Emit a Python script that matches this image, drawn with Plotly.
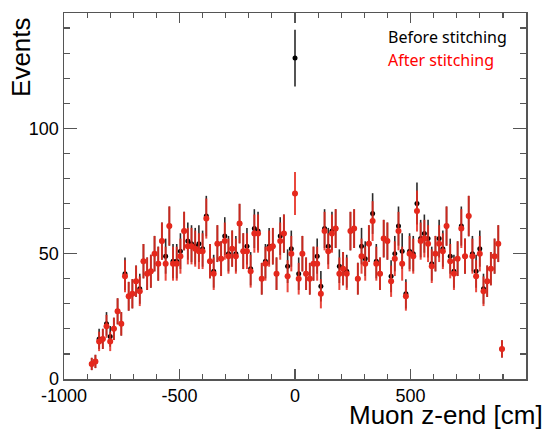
import numpy as np
import plotly.graph_objects as go

# Histogram binning: 16 cm bins, centres from -880 to 896 cm
z_centres = list(range(-880, 897, 16))

before_stitching = [
    6, 7, 16, 16, 22, 17, 20, 27, 22, 42,
    33, 34, 39, 36, 47, 42, 43, 50, 46, 55,
    49, 61, 47, 47, 51, 59, 55, 54, 53, 54,
    52, 65, 47, 43, 54, 48, 57, 50, 52, 50,
    62, 51, 53, 44, 60, 59, 40, 47, 53, 53,
    42, 57, 58, 45, 52, 128, 42, 50, 42, 40,
    46, 49, 37, 60, 53, 59, 60, 45, 44, 43,
    59, 60, 40, 53, 48, 54, 66, 47, 42, 56,
    55, 41, 50, 61, 51, 34, 51, 50, 70, 56,
    58, 56, 46, 50, 56, 52, 61, 49, 43, 48,
    61, 49, 65, 50, 43, 52, 36, 39, 44, 49,
    54, 12,
]
after_stitching = [
    6, 7, 15, 16, 21, 15, 20, 27, 22, 41,
    33, 34, 39, 35, 47, 42, 43, 50, 46, 55,
    46, 61, 46, 46, 49, 59, 53, 53, 52, 51,
    51, 64, 47, 42, 54, 48, 55, 49, 52, 49,
    62, 51, 51, 43, 58, 58, 40, 46, 52, 53,
    42, 55, 58, 41, 50, 74, 40, 50, 42, 40,
    46, 46, 34, 59, 51, 58, 60, 42, 44, 42,
    59, 60, 40, 49, 46, 54, 63, 46, 42, 56,
    55, 39, 48, 59, 46, 33, 50, 49, 67, 55,
    56, 54, 45, 50, 54, 51, 61, 47, 42, 48,
    60, 49, 65, 49, 41, 50, 35, 39, 44, 49,
    54, 12,
]

x_tick_vals = [-1000, -500, 0, 500]
x_tick_text = ["-1000", "-500", "0", "500"]
y_tick_vals = [0, 50, 100]
y_tick_text = ["0", "50", "100"]

err_before = np.sqrt(np.array(before_stitching, dtype=float))
err_after = np.sqrt(np.array(after_stitching, dtype=float))

RED = "#e5281c"

fig = go.Figure()
fig.add_trace(go.Scatter(
    x=z_centres, y=before_stitching, mode="markers",
    marker=dict(color="black", size=5),
    error_y=dict(type="data", array=err_before, visible=True,
                 color="#2a2a2a", thickness=1.6, width=0),
    showlegend=False, hoverinfo="skip",
))
fig.add_trace(go.Scatter(
    x=z_centres, y=after_stitching, mode="markers",
    marker=dict(color=RED, size=6),
    error_y=dict(type="data", array=err_after, visible=True,
                 color="rgba(229,40,28,0.85)", thickness=2, width=0),
    showlegend=False, hoverinfo="skip",
))

axis_common = dict(
    showline=True, linecolor="#555555", linewidth=1.5, mirror="allticks",
    ticks="inside", tickcolor="#555555", showgrid=False, zeroline=False,
    automargin=False,
    tickfont=dict(family="Liberation Sans, Arial", size=18, color="black"),
)

fig.update_xaxes(
    range=[-1000, 1000], tickmode="array", tickvals=x_tick_vals,
    ticktext=x_tick_text, ticklen=10, tickwidth=1.2,
    minor=dict(dtick=100, ticklen=5, ticks="inside", tickcolor="#555555", tickwidth=1.2),
    **axis_common,
)
fig.update_yaxes(
    range=[0, 146], tickmode="array", tickvals=y_tick_vals,
    ticktext=y_tick_text, ticklen=13, tickwidth=1.2,
    minor=dict(dtick=10, ticklen=6, ticks="inside", tickcolor="#555555", tickwidth=1.2),
    **axis_common,
)

fig.update_layout(
    width=550, height=429,
    margin=dict(l=64, r=24, t=13, b=50),
    paper_bgcolor="white", plot_bgcolor="white",
    annotations=[
        dict(text="Events", xref="paper", yref="paper", x=-0.092, y=0.996,
             xanchor="center", yanchor="top", textangle=-90, showarrow=False,
             font=dict(family="Liberation Sans, Arial", size=26, color="black")),
        dict(text="Muon z-end [cm]", xref="paper", yref="paper", x=1.041, y=-0.097,
             xanchor="right", yanchor="middle", showarrow=False,
             font=dict(family="Liberation Sans, Arial", size=26, color="black")),
        dict(text="Before stitching", xref="paper", yref="paper", x=0.697, y=0.934,
             xanchor="left", yanchor="middle", showarrow=False,
             font=dict(family="Noto Sans", size=16, color="black")),
        dict(text="After stitching", xref="paper", yref="paper", x=0.697, y=0.872,
             xanchor="left", yanchor="middle", showarrow=False,
             font=dict(family="Noto Sans", size=16, color="red")),
    ],
)

fig.write_html(
    "out.html",
    config={"displayModeBar": False, "staticPlot": True},
    post_script="document.body.style.margin='0';document.body.style.overflow='hidden';",
)
